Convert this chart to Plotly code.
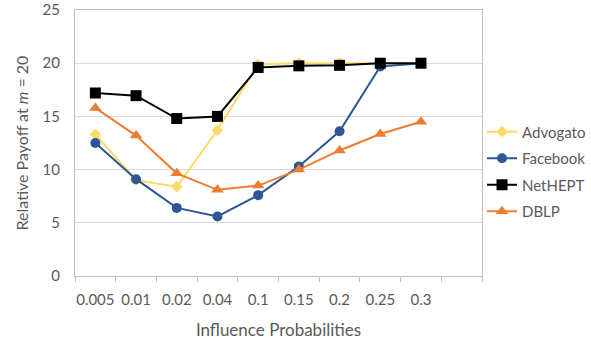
import plotly.graph_objects as go

categories = ["0.005", "0.01", "0.02", "0.04", "0.1", "0.15", "0.2", "0.25", "0.3"]
advogato = [13.3, 9.0, 8.4, 13.7, 19.9, 20.0, 20.0, 20.0, 20.0]
facebook = [12.5, 9.1, 6.4, 5.6, 7.6, 10.3, 13.6, 19.7, 20.0]
nethept = [17.2, 16.95, 14.8, 15.0, 19.6, 19.75, 19.8, 20.0, 20.0]
dblp = [15.8, 13.2, 9.65, 8.1, 8.5, 10.0, 11.8, 13.35, 14.5]

xs = list(range(len(categories)))
font = "Lato, 'Open Sans', sans-serif"
grey = "#595959"

fig = go.Figure()
series = [
    ("Advogato", advogato, "#FFD966", "diamond", 9),
    ("Facebook", facebook, "#2F5597", "circle", 10),
    ("NetHEPT", nethept, "#000000", "square", 11),
    ("DBLP", dblp, "#ED7D31", "triangle-up", 11),
]
for name, vals, col, sym, sz in series:
    fig.add_trace(go.Scatter(
        x=xs, y=vals, name=name, mode="lines+markers", legendgroup=name,
        line=dict(color=col, width=2),
        marker=dict(symbol=sym, size=sz, color=col),
    ))

fig.update_layout(
    width=591, height=343,
    margin=dict(l=75, r=106, t=10, b=67),
    paper_bgcolor="white", plot_bgcolor="white",
    font=dict(family=font, color=grey, size=15),
    legend=dict(xref="container", yref="container", x=0.8156, y=0.50,
                xanchor="left", yanchor="middle",
                bgcolor="rgba(0,0,0,0)",
                font=dict(size=15, color=grey), tracegroupgap=4,
                itemwidth=30),
    xaxis=dict(
        range=[-0.5, 9.5], tickmode="array", tickvals=xs, ticktext=categories,
        ticks="", showgrid=False, zeroline=False, automargin=False,
        showline=True, linecolor="#BFBFBF", linewidth=1, mirror=True,
        tickfont=dict(size=15, color=grey), ticklabelstandoff=10,
        minor=dict(tick0=0.5, dtick=1, ticks="outside", ticklen=5,
                   tickcolor="#BFBFBF", showgrid=False),
        title=dict(text="Influence Probabilities", font=dict(size=17, color=grey), standoff=17),
    ),
    yaxis=dict(
        range=[0, 25], tickvals=[0, 5, 10, 15, 20, 25],
        showgrid=True, gridcolor="#D9D9D9", gridwidth=1, zeroline=False, automargin=False,
        showline=True, linecolor="#BFBFBF", linewidth=1, mirror=True,
        ticks="", tickfont=dict(size=15, color=grey), ticklabelstandoff=11,
        title=dict(text="Relative Payoff at <i>m</i> = 20", font=dict(size=16, color=grey), standoff=9),
    ),
    showlegend=True,
)

fig.write_html("out.html", config={"displayModeBar": False},
               post_script="document.body.style.margin='0px';")
